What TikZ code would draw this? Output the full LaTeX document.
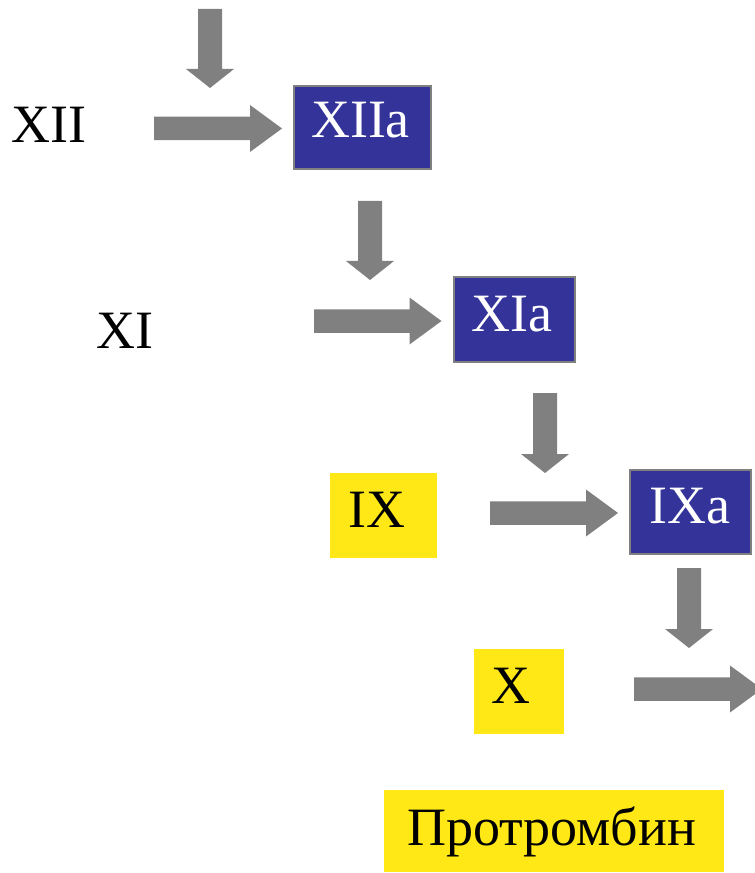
\documentclass[tikz,border=0pt]{standalone}
\usepackage{fontspec}
\setmainfont{Liberation Serif}
\definecolor{arrgray}{HTML}{808080}
\definecolor{fblue}{HTML}{333399}
\definecolor{fyellow}{HTML}{FFE816}
\newcommand{\rightblock}[4]{% name, x1, x2(tip), yc
  \fill[arrgray] (#2,#4-11.75) -- (#3-32,#4-11.75) -- (#3-32,#4-23.5) -- (#3,#4) -- (#3-32,#4+23.5) -- (#3-32,#4+11.75) -- (#2,#4+11.75) -- cycle;
  \coordinate (#1) at (#3,#4);}
\newcommand{\downblock}[4]{% name, xc, y1, y2(tip)
  \fill[arrgray] (#2-12,#3) -- (#2+12,#3) -- (#2+12,#4-19) -- (#2+24,#4-19) -- (#2,#4) -- (#2-24,#4-19) -- (#2-12,#4-19) -- cycle;
  \coordinate (#1) at (#2,#4);}
\tikzset{
  bluebox/.style={fill=fblue, draw=arrgray, line width=1.1pt},
  yellowbox/.style={fill=fyellow},
  lbl/.style={anchor=base, inner sep=0pt, font=\fontsize{40.5}{46}\selectfont},
  wlbl/.style={lbl, text=white}
}
\begin{document}
\begin{tikzpicture}[x=0.75pt,y=-0.75pt]
\useasboundingbox (0,0) rectangle (755,873);
\begin{scope}
\clip (0,0) rectangle (755,873);
% boxes
\path[bluebox] (294,86) rectangle (431,169);
\path[bluebox] (454,277) rectangle (575,362);
\path[bluebox] (630,470) rectangle (751,554);
\path[yellowbox] (330,473) rectangle (437,558);
\path[yellowbox] (474,649) rectangle (564,734);
\path[yellowbox] (384,790) rectangle (724,872);
% arrows
\downblock{d1}{210}{9}{88}
\downblock{d2}{370}{201}{280}
\downblock{d3}{545}{393}{473}
\downblock{d4}{689}{568}{648}
\rightblock{r1}{154}{282}{128.5}
\rightblock{r2}{314}{441.5}{321}
\rightblock{r3}{490}{618}{513}
\rightblock{r4}{634}{762}{689}
\end{scope}
% labels
\node[lbl] (xii) at (49,143) {XII};
\node[lbl] (xi) at (125,348) {XI};
\node[wlbl] (xiia) at (360.5,138) {XIIa};
\node[wlbl] (xia) at (512,331.5) {XIa};
\node[wlbl] (ixa) at (689.5,523) {IXa};
\node[lbl] (ix) at (377,527.5) {IX};
\node[lbl] (x) at (511,703) {X};
\node[lbl] (prot) at (551.5,845) {Протромбин};
\end{tikzpicture}
\end{document}
